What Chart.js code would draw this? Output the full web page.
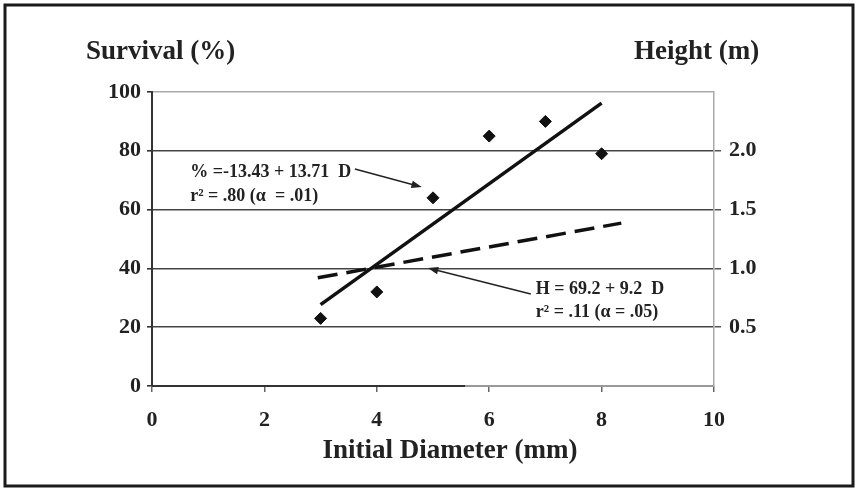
<!DOCTYPE html>
<html>
<head>
<meta charset="utf-8">
<script src="https://cdn.jsdelivr.net/npm/chart.js@4/dist/chart.umd.min.js"></script>
<style>
  body{margin:0;background:#fff;}
  #wrap{position:relative;width:859px;height:491px;}
</style>
</head>
<body>
<div id="wrap"><canvas id="survivalChart"></canvas></div>
<script>
// data
const diameters = [3, 4, 5, 6, 7, 8]
const survival = [23, 32, 64, 85, 90, 79]

// fitted survival line  (% = -13.43 + 13.71 D), end points
const survFitX = [3, 8]
const survFitY = [27.7, 96.2]

// fitted height line (H = 69.2 + 9.2 D), metres, end points
const heightFitX = [2.95, 8.35]
const heightFitY = [0.92, 1.385]

const survivalTicks = [0, 20, 40, 60, 80, 100]
const heightTicks = [0.5, 1.0, 1.5, 2.0]
const diameterTicks = [0, 2, 4, 6, 8, 10]

const leftTitle = 'Survival (%)'
const rightTitle = 'Height (m)'
const bottomTitle = 'Initial Diameter (mm)'

const survNote = ['% =-13.43 + 13.71  D', 'r\u00b2 = .80 (\u03b1  = .01)']
const heightNote = ['H = 69.2 + 9.2  D', 'r\u00b2 = .11 (\u03b1 = .05)']

const serif = "'Liberation Serif', 'Times New Roman', serif"

function pts(xs, ys){
    return xs.map((x, i) => ({x: x, y: ys[i]}))
}

//--------------------------------------------------------------------------
// frame, titles, annotations, dark bit of the x axis
const extras = {
    id: 'extras',
    afterDraw(chart){
        const ctx = chart.ctx
        const xs = chart.scales.x, ys = chart.scales.y
        ctx.save()

        // outer frame
        ctx.strokeStyle = '#1a1a1a'
        ctx.lineWidth = 3
        ctx.strokeRect(5, 5, 848, 481)

        // dark part of bottom axis
        ctx.strokeStyle = '#333'
        ctx.lineWidth = 2
        ctx.beginPath()
        ctx.moveTo(xs.getPixelForValue(0), ys.getPixelForValue(0))
        ctx.lineTo(xs.getPixelForValue(5.57), ys.getPixelForValue(0))
        ctx.stroke()

        // titles
        ctx.fillStyle = '#222'
        ctx.font = 'bold 27px ' + serif
        ctx.textBaseline = 'middle'
        ctx.textAlign = 'left'
        ctx.fillText(leftTitle, 86, 52)
        ctx.fillText(rightTitle, 634, 52)
        ctx.textAlign = 'center'
        ctx.fillText(bottomTitle, 450, 451)

        // annotations
        ctx.font = 'bold 18px ' + serif
        ctx.textAlign = 'left'
        ctx.fillText(survNote[0], xs.getPixelForValue(0.68), ys.getPixelForValue(72.8))
        ctx.fillText(survNote[1], xs.getPixelForValue(0.68), ys.getPixelForValue(64.6))
        ctx.fillText(heightNote[0], xs.getPixelForValue(6.83), ys.getPixelForValue(33))
        ctx.fillText(heightNote[1], xs.getPixelForValue(6.83), ys.getPixelForValue(25.2))

        arrow(ctx, xs.getPixelForValue(3.61), ys.getPixelForValue(73.8),
                   xs.getPixelForValue(4.80), ys.getPixelForValue(67.7))
        arrow(ctx, xs.getPixelForValue(6.74), ys.getPixelForValue(31.3),
                   xs.getPixelForValue(4.91), ys.getPixelForValue(40.1))
        ctx.restore()
    }
}

function arrow(ctx, x1, y1, x2, y2){
    const a = Math.atan2(y2 - y1, x2 - x1)
    ctx.strokeStyle = '#222'
    ctx.fillStyle = '#222'
    ctx.lineWidth = 1.5
    ctx.beginPath()
    ctx.moveTo(x1, y1)
    ctx.lineTo(x2 - 6 * Math.cos(a), y2 - 6 * Math.sin(a))
    ctx.stroke()
    ctx.beginPath()
    ctx.moveTo(x2, y2)
    ctx.lineTo(x2 - 11 * Math.cos(a - 0.35), y2 - 11 * Math.sin(a - 0.35))
    ctx.lineTo(x2 - 11 * Math.cos(a + 0.35), y2 - 11 * Math.sin(a + 0.35))
    ctx.closePath()
    ctx.fill()
}

//--------------------------------------------------------------------------
function drawChart(){
    const tickFont = {family: serif, size: 22, weight: 'bold'}

    new Chart('survivalChart', {
        type: 'scatter',
        data: {
            datasets: [{
                data: pts(diameters, survival),
                yAxisID: 'y',
                pointStyle: 'rectRot',
                pointRadius: 6,
                backgroundColor: '#111',
                borderColor: '#111',
                showLine: false
            }, {
                data: pts(survFitX, survFitY),
                yAxisID: 'y',
                showLine: true,
                pointRadius: 0,
                borderColor: '#111',
                borderWidth: 3.5
            }, {
                data: pts(heightFitX, heightFitY),
                yAxisID: 'y2',
                showLine: true,
                pointRadius: 0,
                borderColor: '#111',
                borderWidth: 3.5,
                borderDash: [20, 9]
            }]
        },
        options: {
            responsive: true,
            maintainAspectRatio: false,
            animation: false,
            layout: {padding: {top: 92, left: 0, right: 0, bottom: 0}},
            plugins: {legend: {display: false}, tooltip: {enabled: false}},
            scales: {
                x: {
                    type: 'linear',
                    min: 0, max: 10,
                    afterFit: (s) => { s.height = 105 },
                    afterBuildTicks: (s) => { s.ticks = diameterTicks.map(v => ({value: v})) },
                    border: {color: '#999', width: 2},
                    grid: {drawOnChartArea: false, tickLength: 6, tickColor: '#666', lineWidth: 1.5},
                    ticks: {font: tickFont, color: '#222', padding: 15}
                },
                y: {
                    position: 'left',
                    min: 0, max: 100,
                    afterFit: (s) => { s.width = 152 },
                    afterBuildTicks: (s) => { s.ticks = survivalTicks.map(v => ({value: v})) },
                    border: {color: '#333', width: 2},
                    grid: {
                        tickLength: 5,
                        tickColor: '#333',
                        lineWidth: 1.6,
                        color: (c) => c.tick.value === 0 ? 'rgba(0,0,0,0)' : (c.tick.value === 100 ? '#aaa' : '#444')
                    },
                    ticks: {font: tickFont, color: '#222', padding: 6}
                },
                y2: {
                    position: 'right',
                    min: 0, max: 2.5,
                    afterFit: (s) => { s.width = 145 },
                    afterBuildTicks: (s) => { s.ticks = heightTicks.map(v => ({value: v})) },
                    border: {color: '#aaa', width: 1.5},
                    grid: {drawOnChartArea: false, tickLength: 7, tickColor: '#555', lineWidth: 1.5},
                    ticks: {font: tickFont, color: '#222', padding: 8, callback: (v) => v.toFixed(1)}
                }
            }
        },
        plugins: [extras]
    })
}

document.addEventListener('DOMContentLoaded', () => {
    drawChart()
})
</script>
</body>
</html>
